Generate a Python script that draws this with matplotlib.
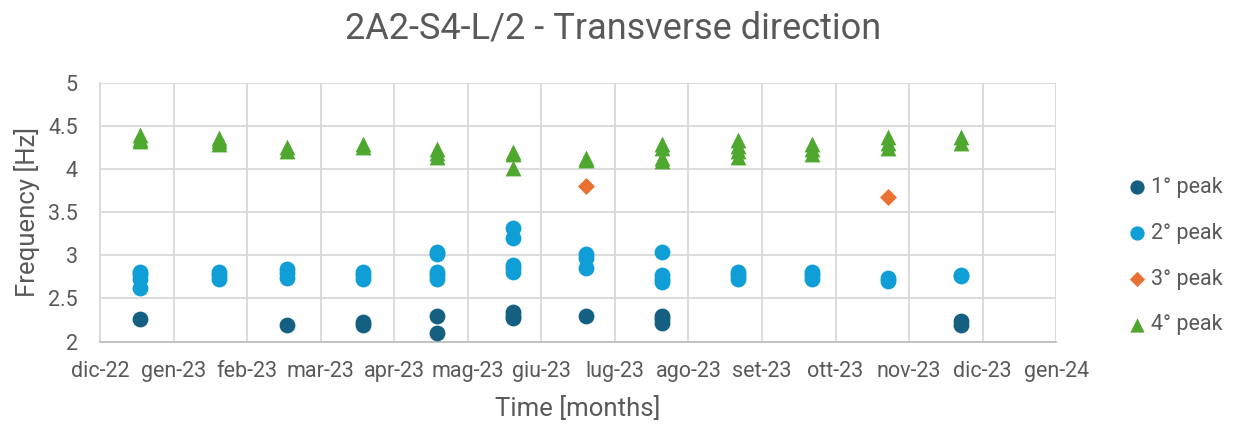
import datetime as dt
import matplotlib
matplotlib.use('Agg')
import matplotlib.pyplot as plt

# measurement campaigns (one per month)
meas_dates = ['2022-12-18', '2023-01-20', '2023-02-18', '2023-03-22', '2023-04-22', '2023-05-24',
              '2023-06-24', '2023-07-26', '2023-08-27', '2023-09-27', '2023-10-29', '2023-11-29']

# identified frequencies [Hz] for each campaign, per peak
peak1 = [[2.26], [], [2.19], [2.23, 2.19], [2.30, 2.10], [2.34, 2.30, 2.27],
         [2.30], [2.30, 2.26, 2.22], [], [], [], [2.24, 2.19]]
peak2 = [[2.81, 2.78, 2.73, 2.62], [2.81, 2.77, 2.73], [2.84, 2.79, 2.74], [2.81, 2.77, 2.73],
         [3.04, 3.01, 2.81, 2.77, 2.73], [3.32, 3.20, 2.89, 2.85, 2.81],
         [3.02, 2.97, 2.85], [3.04, 2.77, 2.72, 2.69], [2.81, 2.77, 2.73], [2.81, 2.77, 2.73],
         [2.74, 2.70], [2.77, 2.76]]
peak3 = [[], [], [], [], [], [], [3.80], [], [], [], [3.67], []]
peak4 = [[4.39, 4.35, 4.32], [4.36, 4.32, 4.29], [4.25, 4.21], [4.29, 4.25],
         [4.23, 4.18, 4.14], [4.20, 4.17, 4.01], [4.13, 4.10], [4.29, 4.24, 4.13, 4.09],
         [4.33, 4.27, 4.21, 4.14], [4.29, 4.23, 4.17], [4.37, 4.30, 4.24], [4.37, 4.30]]

series_names = ['1° peak', '2° peak', '3° peak', '4° peak']
series_colors = ['#156082', '#0F9ED5', '#E97132', '#4EA72E']
series_markers = ['o', 'o', 'D', '^']
series_sizes = [130, 130, 75, 130]

it_months = ['gen', 'feb', 'mar', 'apr', 'mag', 'giu', 'lug', 'ago', 'set', 'ott', 'nov', 'dic']

txt = '#595959'
grid_c = '#D9D9D9'
font = 'Roboto'

fig = plt.figure(figsize=(12.41, 4.26), dpi=100)
ax = fig.add_axes([0.0806, 0.198, 0.7705, 0.608])

dates = [dt.datetime.strptime(d, '%Y-%m-%d') for d in meas_dates]
for vals, name, col, mk, sz in zip([peak1, peak2, peak3, peak4], series_names,
                                   series_colors, series_markers, series_sizes):
    xs, ys = [], []
    for d, v in zip(dates, vals):
        xs += [d] * len(v)
        ys += v
    ax.scatter(xs, ys, s=sz, c=col, marker=mk, linewidths=0, label=name, zorder=3)

# x axis: Excel-like date axis, major unit 31 days
x0 = dt.datetime(2022, 12, 1)
ticks = [x0 + dt.timedelta(days=31 * i) for i in range(14)]
ax.set_xlim(ticks[0], ticks[-1])
ax.set_xticks(ticks)
ax.set_xticklabels(['%s-%s' % (it_months[t.month - 1], t.strftime('%y')) for t in ticks],
                   family=font, fontsize=15.5, color=txt)

ax.set_ylim(2, 5)
ax.set_yticks([2, 2.5, 3, 3.5, 4, 4.5, 5])
ax.set_yticklabels(['2', '2.5', '3', '3.5', '4', '4.5', '5'], fontsize=15.5, color=txt,
                   family=font)

ax.grid(True, color=grid_c, linewidth=1.3, zorder=0)
ax.set_axisbelow(True)
for s in ['top', 'right']:
    ax.spines[s].set_visible(False)
ax.spines['left'].set_color(grid_c)
ax.spines['bottom'].set_color('#BFBFBF')
ax.spines['left'].set_linewidth(1.3)
ax.spines['bottom'].set_linewidth(1.3)
ax.tick_params(axis='x', length=0, pad=14)
ax.tick_params(axis='y', length=0, pad=16)

ax.set_xlabel('Time [months]', fontsize=18.5, color=txt, family=font, labelpad=10)
ax.set_ylabel('Frequency [Hz]', fontsize=18.5, color=txt, family=font, labelpad=6)
fig.text(0.494, 0.932, '2A2-S4-L/2 - Transverse direction', fontsize=26, color=txt,
         family=font, ha='center', va='center')

leg = ax.legend(loc='center left', bbox_to_anchor=(1.051, 0.33), frameon=False,
                prop={'family': font, 'size': 15.5}, labelspacing=1.15,
                handletextpad=0.05, handlelength=1.2, markerscale=0.9)
for t in leg.get_texts():
    t.set_color(txt)

fig.savefig('out.png', dpi=100)
